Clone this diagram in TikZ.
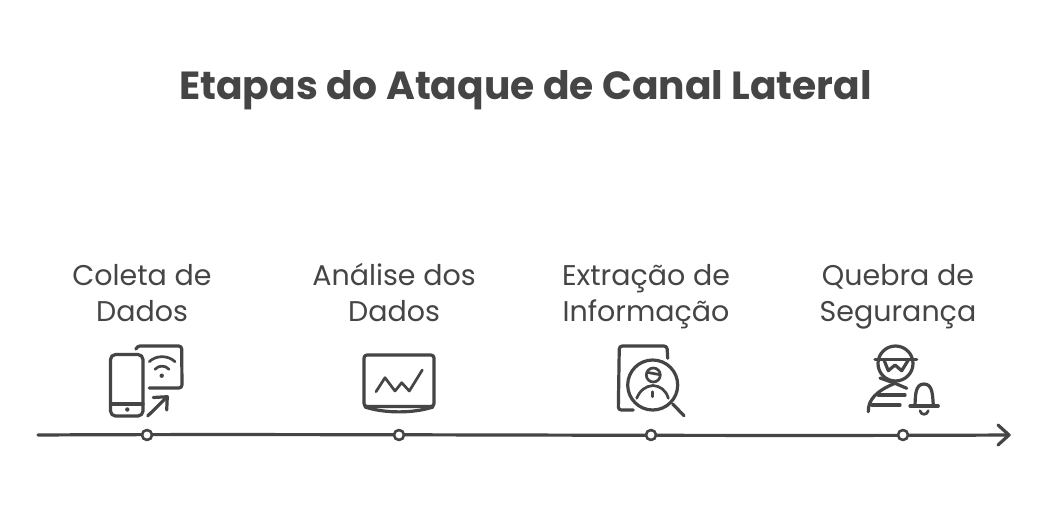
\documentclass[tikz,border=0pt]{standalone}
\usepackage{fontspec}
\setmainfont{Poppins}
\definecolor{ink}{HTML}{454545}
\tikzset{
  every path/.style={line cap=round,line join=round},
  ln/.style={draw=ink,line width=3.2pt},
  ic/.style={draw=ink,line width=3.2pt},
  thin ic/.style={draw=ink,line width=2.7pt},
  dotnode/.style={circle,draw=ink,fill=white,line width=2.6pt,minimum size=10pt,inner sep=0pt},
  lbl/.style={text=ink,font=\fontsize{28.5}{36}\selectfont,align=center,inner sep=0pt},
  ttl/.style={text=ink,font=\fontsize{39.2}{44}\selectfont\bfseries,inner sep=0pt}
}
\begin{document}
\begin{tikzpicture}[x=1pt,y=-1pt]
\useasboundingbox (0,0) rectangle (1050,515);
\fill[white] (0,0) rectangle (1050,515);
\node[ttl] (title) at (525.5,90) {Etapas do Ataque de Canal Lateral};
\coordinate (s) at (38,435);
\coordinate (e) at (1009,435);
\draw[ln] (s) .. controls (300,433.5) and (700,436.5) .. (e);
\draw[ln] (998,425) -- (e) -- (998,445);
\node[dotnode] (n1) at (147,435) {};
\node[dotnode] (n2) at (399,435) {};
\node[dotnode] (n3) at (651,435) {};
\node[dotnode] (n4) at (903,435) {};
\node[lbl] (l1) at (142,296) {\strut Coleta de\\\strut Dados};
\node[lbl] (l2) at (394,296) {\strut Análise dos\\\strut Dados};
\node[lbl] (l3) at (646,296) {\strut Extração de\\\strut Informação};
\node[lbl] (l4) at (898,296) {\strut Quebra de\\\strut Segurança};
% phone + tablet
\draw[ic,rounded corners=5pt] (110.5,354.5) rectangle (143,416);
\draw[ic] (110.5,404) -- (143,404);
\fill[ink] (127.3,409.5) circle (2.2pt);
\draw[ic,rounded corners=3pt] (136,349) -- (137,346) -- (181.7,346) -- (182,388) -- (149.3,388);
\draw[thin ic] (149.3,361.7) .. controls (156,355) and (168,355) .. (175,361.7);
\draw[thin ic] (155,369.3) .. controls (159,365) and (165,365) .. (169,369.3);
\fill[ink] (161.7,375.7) circle (2.2pt);
\draw[ic] (147.7,416) -- (167.3,396.7);
\draw[ic] (153.3,397.5) -- (167.3,396.7) -- (166.7,410);
% monitor
\draw[ic,rounded corners=3pt] (364,355) rectangle (434,406.5);
\draw[ic] (365,407) .. controls (385,413.5) and (413,413.5) .. (433,407);
\draw[thin ic] (376,391.7) -- (385,377.7) -- (395,391) -- (401.7,382.7) -- (409.3,391) -- (422.3,370);
% document + magnifier
\draw[ic,rounded corners=3pt] (667.7,358.3) -- (667,346) -- (619.3,346) -- (618.3,410) -- (633.3,410);
\draw[ic] (652.7,385) circle (25);
\draw[ic] (672.7,404) -- (684,415.7);
\draw[thin ic] (653.3,375) circle (7);
\draw[thin ic] (648,372.5) -- (659,374.5);
\draw[thin ic] (636.7,398.3) .. controls (640,390) and (646,386) .. (653,385.5) .. controls (660,386) and (666,390) .. (668.3,398.3);
\draw[thin ic] (652.7,391.7) -- (652.7,396.7);
% spy + bell
\draw[ic] (895.5,363.5) circle (17.5);
\draw[ic] (875,359.3) -- (916.7,359.3);
\draw[ic] (884,360) -- (888.3,370.7) -- (895,365) -- (901.7,370.7) -- (908.3,360);
\draw[ic] (868.3,411.7) .. controls (868,400) and (876,391) .. (895,383.3) -- (906.7,388.3);
\draw[ic] (880,378) -- (895,383.3);
\draw[ic] (878.3,395) -- (905,395);
\draw[ic] (871.7,405) -- (900,405);
\draw[ic] (910,406) -- (938.3,406);
\draw[ic] (915,405) .. controls (915.5,396) and (915,384) .. (924,384) .. controls (933,384) and (932.5,396) .. (933.3,405);
\draw[thin ic] (920,410.7) .. controls (921,415.5) and (927,415.5) .. (928.3,410.7);
\end{tikzpicture}
\end{document}
